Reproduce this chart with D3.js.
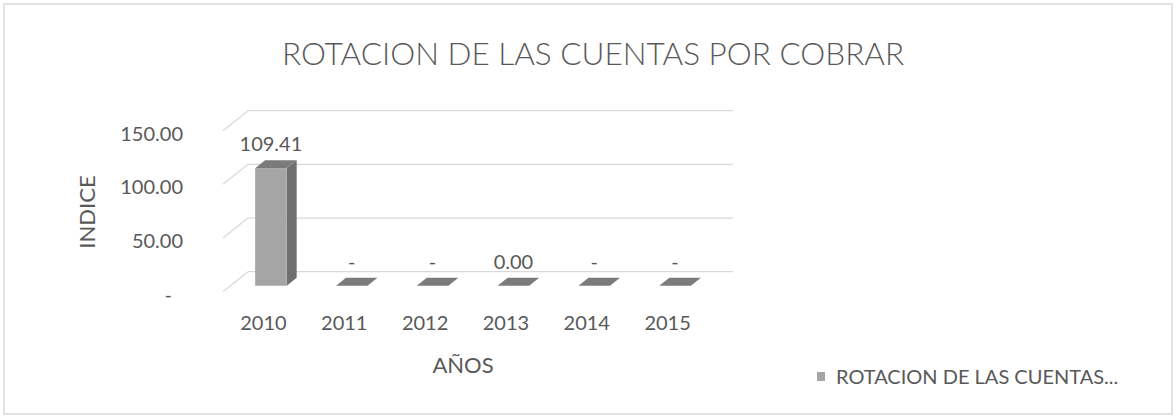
<!DOCTYPE html>
<html>
<head>
<meta charset="utf-8">
<script src="https://cdn.jsdelivr.net/npm/d3@7"></script>
<style>
  body { margin: 0; background: #fff; }
  text { font-family: Lato, "Open Sans", sans-serif; fill: #595959; }
</style>
</head>
<body>
<div id="chart"></div>
<script>
// data
const years = ["2010", "2011", "2012", "2013", "2014", "2015"];
const indice = [109.41, 0, 0, 0.004, 0, 0];
const yTicks = [0, 50, 100, 150];
const seriesName = "ROTACION DE LAS CUENTAS...";

const width = 1176, height = 417;
const depth = { x: 25, y: 20 };   // back wall -> front edge shift
const barT = [0.30, 0.70];        // bar depth inside the floor (0 = back, 1 = front)

const svg = d3.select("#chart").append("svg")
  .attr("width", width)
  .attr("height", height);

svg.append("rect")
  .attr("x", 4).attr("y", 4)
  .attr("width", 1168).attr("height", 410)
  .attr("fill", "#fff")
  .attr("stroke", "#d9d9d9")
  .attr("stroke-width", 1.5);

const x = d3.scaleBand().domain(years).range([248, 733]);
const y = d3.scaleLinear().domain([0, 150]).range([271.7, 110.7]);

const proj = (xb, v, t) => [xb - depth.x * t, y(v) + depth.y * t];
const fmt = d3.format(".2f");
const label = v => v === 0 ? "-" : fmt(v);

// gridlines on back wall + side wall diagonals
const grid = svg.append("g").attr("stroke", "#d9d9d9").attr("stroke-width", 1.3).attr("fill", "none");
yTicks.forEach(v => {
  grid.append("line")
    .attr("x1", x.range()[0]).attr("x2", x.range()[1])
    .attr("y1", y(v)).attr("y2", y(v));
  const f = proj(x.range()[0], v, 1);
  grid.append("line")
    .attr("x1", f[0]).attr("y1", f[1])
    .attr("x2", x.range()[0]).attr("y2", y(v));
});

// y tick labels
svg.append("g").selectAll("text").data(yTicks).enter().append("text")
  .attr("x", d => d === 0 ? 172 : 183)
  .attr("y", d => y(d) + depth.y + 3)
  .attr("dy", "0.35em")
  .attr("text-anchor", "end")
  .style("font-size", "20px")
  .text(label);

// bars
const bw = x.bandwidth() * 0.39;
const bars = svg.append("g").selectAll("g").data(years).enter().append("g");

bars.each(function(yr, i) {
  const g = d3.select(this);
  const v = indice[i];
  const cx = x(yr) + x.bandwidth() / 2;
  const l = cx - bw / 2, r = cx + bw / 2;
  const fb = proj(l, 0, barT[1]), fbr = proj(r, 0, barT[1]);
  const ft = proj(l, v, barT[1]), ftr = proj(r, v, barT[1]);
  const bt = proj(l, v, barT[0]), btr = proj(r, v, barT[0]);
  const bbr = proj(r, 0, barT[0]);
  const pts = a => a.map(p => p.join(",")).join(" ");
  if (y(0) - y(v) > 1) {
    g.append("polygon").attr("points", pts([fbr, ftr, btr, bbr])).attr("fill", "#6f6f6f");
    g.append("polygon").attr("points", pts([fb, ft, ftr, fbr])).attr("fill", "#a5a5a5");
  }
  g.append("polygon").attr("points", pts([ft, bt, btr, ftr])).attr("fill", "#7b7b7b");

  g.append("text")
    .attr("x", (ft[0] + ftr[0]) / 2)
    .attr("y", ft[1] - 24)
    .attr("dy", "0.35em")
    .attr("text-anchor", "middle")
    .style("font-size", "20px")
    .text(label(v));
});

// x labels
svg.append("g").selectAll("text").data(years).enter().append("text")
  .attr("x", d => proj(x(d) + x.bandwidth() / 2, 0, 1)[0])
  .attr("y", 323)
  .attr("dy", "0.35em")
  .attr("text-anchor", "middle")
  .style("font-size", "20px")
  .text(d => d);

// axis titles
svg.append("text")
  .attr("x", 463).attr("y", 365)
  .attr("dy", "0.35em")
  .attr("text-anchor", "middle")
  .style("font-size", "22px")
  .text("AÑOS");

svg.append("text")
  .attr("transform", "translate(87,212) rotate(-90)")
  .attr("dy", "0.35em")
  .attr("text-anchor", "middle")
  .style("font-size", "22px")
  .text("INDICE");

// title
svg.append("text")
  .attr("x", 593).attr("y", 54)
  .attr("dy", "0.35em")
  .attr("text-anchor", "middle")
  .style("font-size", "31.5px")
  .style("font-weight", 300)
  .text("ROTACION DE LAS CUENTAS POR COBRAR");

// legend
const lg = svg.append("g").attr("transform", "translate(817,372)");
lg.append("rect").attr("width", 8).attr("height", 9).attr("fill", "#a5a5a5");
lg.append("text")
  .attr("x", 19).attr("y", 4.5)
  .attr("dy", "0.35em")
  .style("font-size", "20px")
  .text(seriesName);
</script>
</body>
</html>
